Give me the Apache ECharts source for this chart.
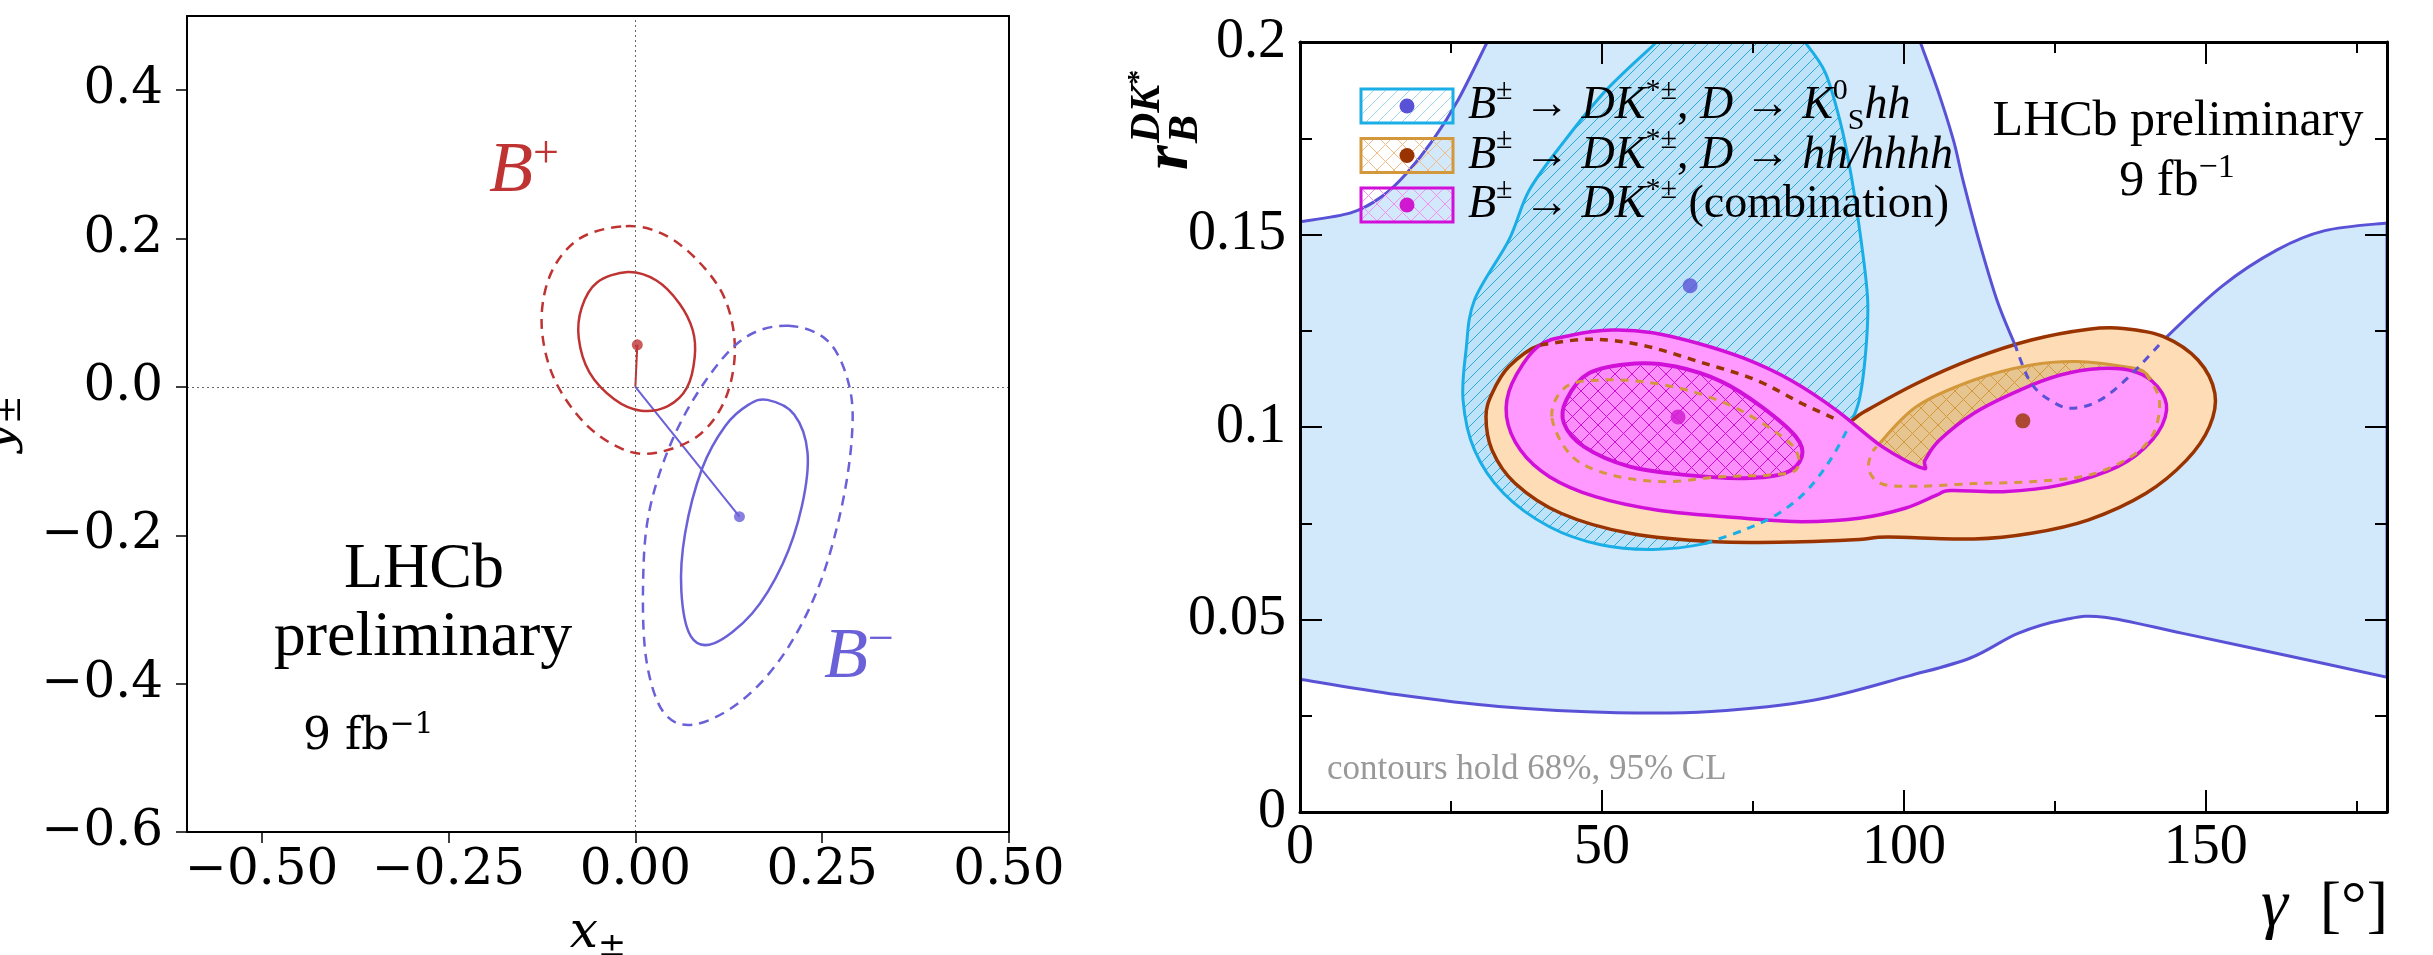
<!DOCTYPE html>
<html>
<head>
<meta charset="utf-8">
<title>LHCb B to DK* contours</title>
<script src="https://cdn.jsdelivr.net/npm/echarts@6/dist/echarts.min.js"></script>
<style>
  html, body { margin: 0; padding: 0; background: #fff; }
  #chart { width: 2433px; height: 955px; }
</style>
</head>
<body>
<div id="chart"></div>
<script>
// ---- left panel: (x±, y±) ----
const leftXTicks = [-0.5, -0.25, 0, 0.25, 0.5];
const leftYTicks = [-0.6, -0.4, -0.2, 0, 0.2, 0.4];
const bPlusCenter = [0.0026, 0.0568];
const bMinusCenter = [0.1393, -0.1749];
const bPlus68 = [[-0.0102, 0.1548], [0.0282, 0.1434], [0.0589, 0.1125], [0.0768, 0.0764], [0.0794, 0.0402],
  [0.0691, -0.001], [0.0435, -0.0258], [0.0077, -0.032], [-0.0282, -0.0165], [-0.0615, 0.0196],
  [-0.0758, 0.066], [-0.0717, 0.1073], [-0.0512, 0.1408]];
const bPlus95 = [[-0.0128, 0.2167], [0.0384, 0.2053], [0.0845, 0.1692], [0.1203, 0.1176], [0.1332, 0.0506],
  [0.1203, -0.0165], [0.0845, -0.0655], [0.0282, -0.0887], [-0.0179, -0.0836], [-0.0691, -0.0475],
  [-0.1101, 0.0144], [-0.1255, 0.0867], [-0.1127, 0.1537], [-0.0743, 0.2002]];
const bMinus68 = [[0.1767, -0.0175], [0.2125, -0.0371], [0.2304, -0.0887], [0.2228, -0.161], [0.1972, -0.2384],
  [0.1562, -0.3054], [0.105, -0.3457], [0.0743, -0.3364], [0.0615, -0.2745], [0.0666, -0.1971],
  [0.0896, -0.1094], [0.1203, -0.0526], [0.1511, -0.0242]];
const bMinus95 = [[0.2048, 0.0825], [0.2586, 0.0609], [0.2868, -0.001], [0.2893, -0.0733], [0.274, -0.1713],
  [0.2433, -0.2745], [0.1972, -0.3622], [0.1408, -0.4241], [0.0794, -0.455], [0.0384, -0.4396],
  [0.0154, -0.3725], [0.0102, -0.2745], [0.0179, -0.1713], [0.0487, -0.0733], [0.0947, 0.0093], [0.146, 0.066]];

// ---- right panel: (gamma, r_B) ----
const rightXTicks = [0, 50, 100, 150];
const rightXMinor = [25, 75, 125, 175];
const rightYTicks = [0, 0.05, 0.1, 0.15, 0.2];
const rightYMinor = [0.025, 0.075, 0.125, 0.175];

// 95% K0S hh region, three boundary pieces joined along the frame
const kshh95Lower = [[0, 0.0345], [16, 0.0305], [32.9, 0.0274], [52.5, 0.0258], [68.1, 0.0261], [85, 0.029],
  [100.7, 0.0353], [111, 0.040], [118.9, 0.0464], [126.7, 0.050], [133.2, 0.0506], [146.2, 0.0464],
  [163, 0.0408], [180, 0.035]];
const kshh95UpperRight = [[180, 0.153], [169.7, 0.151], [161.8, 0.146], [152.7, 0.1366],
  [143, 0.1226], [137.3, 0.1131], [132.5, 0.107], [128.2, 0.1049], [125, 0.1062], [121.1, 0.1113],
  [118.3, 0.1217], [115.4, 0.133], [112.4, 0.1486], [109.8, 0.164], [108.2, 0.1745], [105.6, 0.1875], [102.7, 0.2]];
const kshh95UpperLeft = [[31, 0.2], [26.2, 0.185], [22, 0.1745], [17.7, 0.166], [13.5, 0.1598], [8.4, 0.1556], [0, 0.1533]];
const kshhDashed = [[118.3, 0.1217], [121.1, 0.1113], [125, 0.1062], [128.2, 0.1049], [132.5, 0.107],
  [137.3, 0.1131], [143, 0.1226]];
const kshh68 = [[59.1, 0.2], [50.7, 0.1875], [43.9, 0.1745], [38.0, 0.1616], [34.6, 0.1486], [28.9, 0.133],
  [27.5, 0.120], [27.0, 0.107], [28.9, 0.094], [33.7, 0.0828], [41.3, 0.0741], [49.8, 0.0694],
  [58.4, 0.0682], [67.0, 0.0697], [73.6, 0.0733], [79.3, 0.0776], [84.0, 0.0836], [87.8, 0.0914],
  [90.7, 0.0995], [92.6, 0.107], [93.7, 0.120], [94.0, 0.133], [92.9, 0.1486], [91.2, 0.166],
  [89.5, 0.179], [87.0, 0.192], [83.6, 0.2]];
const kshh68Dashed = [[67.0, 0.0697], [73.6, 0.0733], [79.3, 0.0776], [84.0, 0.0836], [87.8, 0.0914], [90.7, 0.0995]];
const hh95 = [[30.8, 0.1027], [31.8, 0.1087], [34.6, 0.1157], [39.8, 0.1213], [47.9, 0.1228], [56.5, 0.1213],
  [66, 0.117], [75.5, 0.1122], [83.1, 0.1061], [88.8, 0.102], [91.0, 0.1014], [93.5, 0.104],
  [102.1, 0.1113], [111.6, 0.1178], [121.1, 0.1226], [130.6, 0.1254], [136.3, 0.1256], [143, 0.1235],
  [148.7, 0.1174], [151.5, 0.1087], [150.6, 0.1001], [146.8, 0.0914], [140.1, 0.0828], [130.6, 0.0759],
  [121.1, 0.0724], [111.6, 0.0709], [97.4, 0.0714], [92.6, 0.0708], [83.1, 0.0702], [68.8, 0.0702],
  [54.6, 0.0724], [43.2, 0.0776], [35.6, 0.0854], [31.8, 0.094]];
const hh95Dashed = [[39.8, 0.1213], [47.9, 0.1228], [56.5, 0.1213], [66, 0.117], [75.5, 0.1122],
  [83.1, 0.1061], [88.8, 0.102]];
const hh68Left = [[41.7, 0.1027], [44.1, 0.1105], [49.8, 0.1122], [56.5, 0.1118], [64.1, 0.1096],
  [71.7, 0.1053], [78.3, 0.0992], [82.1, 0.094], [82.1, 0.0888], [77.4, 0.0875], [69.8, 0.0871],
  [60.3, 0.0858], [51.7, 0.0875], [45.1, 0.0923]];
const hh68Right = [[95.5, 0.0949], [102.1, 0.1053], [111.6, 0.1122], [121.1, 0.1161], [128.7, 0.117],
  [136.3, 0.1157], [140.1, 0.1139], [142.3, 0.107], [141.3, 0.0983], [137.6, 0.0923], [130.6, 0.0875],
  [121.1, 0.0858], [111.6, 0.0853], [102.1, 0.0846], [96.4, 0.0852], [94.2, 0.0888], [94.6, 0.093]];
const hh68RightDashed = [[140.1, 0.1139], [142.3, 0.107], [141.3, 0.0983], [137.6, 0.0923], [130.6, 0.0875],
  [121.1, 0.0858], [111.6, 0.0853], [102.1, 0.0846], [96.4, 0.0852], [94.2, 0.0888], [94.6, 0.093], [95.5, 0.0949]];
const comb95 = [[39.4, 0.1209], [45.1, 0.1239], [51.7, 0.1252], [58.4, 0.1245], [66.0, 0.1217], [73.6, 0.1178],
  [81.2, 0.1122], [88.8, 0.1044], [96.4, 0.0949], [103.1, 0.0893], [103.5, 0.0914], [105.9, 0.0966],
  [111.6, 0.1036], [119.2, 0.1096], [125.9, 0.1135], [132.5, 0.1152], [138.2, 0.1144], [142.0, 0.1105],
  [143.5, 0.1044], [141.1, 0.0966], [135.4, 0.0897], [125.9, 0.0849], [116.4, 0.0832], [107.8, 0.0835],
  [105.4, 0.0823], [100.2, 0.0789], [92.6, 0.0763], [83.1, 0.0754], [73.6, 0.0763], [59.3, 0.0784],
  [48.9, 0.0819], [41.3, 0.0871], [36.5, 0.094], [34.2, 0.1027], [35.1, 0.1113]];
const comb68 = [[44.1, 0.107], [47.9, 0.114], [55.5, 0.1165], [62.2, 0.1157], [69.8, 0.1118], [76.4, 0.1053],
  [82.1, 0.0975], [83.1, 0.0923], [80.3, 0.088], [73.6, 0.0867], [64.1, 0.0875], [54.6, 0.0897],
  [47.0, 0.0949], [43.7, 0.101]];
const kshhBest = [[64.6, 0.1367]];
const hhBest = [[119.7, 0.1016]];
const combBest = [[62.6, 0.1026]];

const serif = 'Liberation Serif';
const mplSerif = 'DejaVu Serif';
const red = '#bf3333';
const blue = '#6a60d8';
const purple = '#5a52d6';
const cyan = '#1aaee6';
const brown = '#993300';
const gold = '#d4983c';
const magenta = '#d010d8';

function hatch(bg, line, size, width, cross) {
  const c = document.createElement('canvas');
  c.width = size; c.height = size;
  const g = c.getContext('2d');
  if (bg) { g.fillStyle = bg; g.fillRect(0, 0, size, size); }
  g.strokeStyle = line; g.lineWidth = width;
  g.beginPath();
  g.moveTo(0, size); g.lineTo(size, 0);
  g.moveTo(-size / 2, size / 2); g.lineTo(size / 2, -size / 2);
  g.moveTo(size / 2, size * 1.5); g.lineTo(size * 1.5, size / 2);
  if (cross) {
    g.moveTo(0, 0); g.lineTo(size, size);
    g.moveTo(-size / 2, size / 2); g.lineTo(size / 2, size * 1.5);
    g.moveTo(size / 2, -size / 2); g.lineTo(size * 1.5, size / 2);
  }
  g.stroke();
  return { image: c, repeat: 'repeat' };
}

// Catmull-Rom piece as a cubic bezier command
function crCurve(p0, p1, p2, p3) {
  const k = 1 / 6;
  return 'C' + (p1[0] + (p2[0] - p0[0]) * k).toFixed(2) + ',' + (p1[1] + (p2[1] - p0[1]) * k).toFixed(2) + ' ' +
    (p2[0] - (p3[0] - p1[0]) * k).toFixed(2) + ',' + (p2[1] - (p3[1] - p1[1]) * k).toFixed(2) + ' ' +
    p2[0].toFixed(2) + ',' + p2[1].toFixed(2);
}

// mode: 'loop' smooth closed contour, 'closed' smooth pieces joined by straight lines, 'open' plain curve
function buildPath(segs, mode) {
  let d = '';
  if (mode === 'loop') {
    const p = segs[0], n = p.length;
    d = 'M' + p[0][0].toFixed(2) + ',' + p[0][1].toFixed(2);
    for (let i = 0; i < n; i++) d += crCurve(p[(i - 1 + n) % n], p[i], p[(i + 1) % n], p[(i + 2) % n]);
    return d + 'Z';
  }
  segs.forEach(function (p, s) {
    d += (s === 0 ? 'M' : 'L') + p[0][0].toFixed(2) + ',' + p[0][1].toFixed(2);
    for (let i = 0; i < p.length - 1; i++) d += crCurve(p[i - 1] || p[i], p[i], p[i + 1], p[i + 2] || p[i + 1]);
  });
  return mode === 'closed' ? d + 'Z' : d;
}

function contour(xi, yi, segs, mode, style, z) {
  return {
    type: 'custom', xAxisIndex: xi, yAxisIndex: yi, z: z, silent: true, clip: true,
    data: segs[0],
    renderItem: function (params, api) {
      if (params.dataIndex !== 0) return null;
      const px = segs.map(function (s) { return s.map(function (p) { return api.coord(p); }); });
      return { type: 'path', shape: { pathData: buildPath(px, mode) }, style: style };
    }
  };
}

function dot(xi, yi, pts, color, size, z) {
  return {
    type: 'scatter', xAxisIndex: xi, yAxisIndex: yi, z: z, silent: true,
    data: pts, symbol: 'circle', symbolSize: size,
    itemStyle: { color: color }
  };
}

function minus(v, digits) {
  return (v < 0 ? '\u2212' : '') + Math.abs(v).toFixed(digits);
}

const dash = [10, 7];
const dash2 = [8, 7];
const blackLine = { color: '#000', width: 2 };
const rightLine = { color: '#000', width: 3 };

function frameAxis(grid, pos, extent, z) {
  return {
    type: 'value', gridIndex: grid, position: pos, min: extent[0], max: extent[1], z: z,
    axisLine: { show: true, onZero: false, lineStyle: grid === 0 ? blackLine : rightLine },
    axisTick: { show: false }, axisLabel: { show: false }, splitLine: { show: false }
  };
}

function tickAxis(grid, pos, extent, values, len, line, z) {
  return {
    type: 'value', gridIndex: grid, position: pos, min: extent[0], max: extent[1], z: z,
    axisLine: { show: line, onZero: false, lineStyle: rightLine },
    axisTick: { show: true, inside: true, customValues: values, length: len, lineStyle: { color: '#000', width: 2 } },
    axisLabel: { show: false }, splitLine: { show: false }
  };
}

const rightX = [0, 180];
const rightY = [0, 0.2];

const xAxes = [
  {
    type: 'value', gridIndex: 0, position: 'bottom', min: -0.6, max: 0.5, z: 10,
    axisLine: { show: true, onZero: false, lineStyle: blackLine },
    axisTick: { show: true, customValues: leftXTicks, length: 11, lineStyle: { color: '#000', width: 1.5 } },
    axisLabel: { customValues: leftXTicks, formatter: function (v) { return minus(v, 2); },
      fontFamily: mplSerif, fontSize: 50, color: '#000', margin: 14 },
    splitLine: { show: false }
  },
  frameAxis(0, 'top', [-0.6, 0.5], 10),
  {
    type: 'value', gridIndex: 1, position: 'bottom', min: 0, max: 180, z: 20,
    axisLine: { show: true, onZero: false, lineStyle: rightLine },
    axisTick: { show: true, inside: true, customValues: rightXTicks, length: 22, lineStyle: { color: '#000', width: 2 } },
    axisLabel: { customValues: rightXTicks, fontFamily: serif, fontSize: 56, color: '#000', margin: 8 },
    splitLine: { show: false }
  },
  tickAxis(1, 'bottom', rightX, rightXMinor, 11, false, 20),
  tickAxis(1, 'top', rightX, rightXTicks, 22, true, 20),
  tickAxis(1, 'top', rightX, rightXMinor, 11, false, 20)
];

const yAxes = [
  {
    type: 'value', gridIndex: 0, position: 'left', min: -0.6, max: 0.5, z: 10,
    axisLine: { show: true, onZero: false, lineStyle: blackLine },
    axisTick: { show: true, customValues: leftYTicks, length: 11, lineStyle: { color: '#000', width: 1.5 } },
    axisLabel: { customValues: leftYTicks, formatter: function (v) { return minus(v, 1); },
      fontFamily: mplSerif, fontSize: 50, color: '#000', margin: 24 },
    splitLine: { show: false }
  },
  frameAxis(0, 'right', [-0.6, 0.5], 10),
  {
    type: 'value', gridIndex: 1, position: 'left', min: 0, max: 0.2, z: 20,
    axisLine: { show: true, onZero: false, lineStyle: rightLine },
    axisTick: { show: true, inside: true, customValues: rightYTicks, length: 22, lineStyle: { color: '#000', width: 2 } },
    axisLabel: { customValues: rightYTicks, fontFamily: serif, fontSize: 56, color: '#000', margin: 14 },
    splitLine: { show: false }
  },
  tickAxis(1, 'left', rightY, rightYMinor, 12, false, 20),
  tickAxis(1, 'right', rightY, rightYTicks, 22, true, 20),
  tickAxis(1, 'right', rightY, rightYMinor, 12, false, 20)
];

const series = [
  // left panel
  {
    type: 'line', xAxisIndex: 0, yAxisIndex: 0, z: 3, silent: true, symbol: 'none',
    data: [[0, 0], bPlusCenter], lineStyle: { color: red, width: 2 },
    markLine: {
      silent: true, symbol: ['none', 'none'], label: { show: false },
      lineStyle: { type: [2, 3], color: '#666', width: 1 },
      data: [{ xAxis: 0 }, { yAxis: 0 }]
    }
  },
  {
    type: 'line', xAxisIndex: 0, yAxisIndex: 0, z: 3, silent: true, symbol: 'none',
    data: [[0, 0], bMinusCenter], lineStyle: { color: blue, width: 2 }
  },
  contour(0, 0, [bPlus68], 'loop', { fill: 'none', stroke: red, lineWidth: 2.5 }, 4),
  contour(0, 0, [bPlus95], 'loop', { fill: 'none', stroke: red, lineWidth: 2.5, lineDash: dash }, 4),
  contour(0, 0, [bMinus68], 'loop', { fill: 'none', stroke: blue, lineWidth: 2.5 }, 4),
  contour(0, 0, [bMinus95], 'loop', { fill: 'none', stroke: blue, lineWidth: 2.5, lineDash: dash }, 4),
  dot(0, 0, [bPlusCenter], red, 11, 5),
  dot(0, 0, [bMinusCenter], blue, 11, 5),

  // right panel, drawn back to front
  contour(2, 2, [kshh95Lower, kshh95UpperRight, kshh95UpperLeft], 'closed',
    { fill: '#d2e8fb', stroke: purple, lineWidth: 3 }, 2),
  contour(2, 2, [kshh68], 'closed', { fill: hatch('#bee3f8', '#2aa9dd', 12, 1, false), stroke: cyan, lineWidth: 3 }, 3),
  contour(2, 2, [hh95], 'loop', { fill: '#fddcb6', stroke: brown, lineWidth: 3.5 }, 4),
  contour(2, 2, [hh68Left], 'loop', { fill: hatch('#e6c590', gold, 17, 1, true), stroke: gold, lineWidth: 3 }, 5),
  contour(2, 2, [hh68Right], 'loop', { fill: hatch('#e6c590', gold, 17, 1, true), stroke: gold, lineWidth: 3 }, 5),
  contour(2, 2, [comb95], 'loop', { fill: '#ff99ff', stroke: magenta, lineWidth: 3.5 }, 6),
  contour(2, 2, [comb68], 'loop', { fill: hatch('#fb8efb', magenta, 17, 1, true), stroke: magenta, lineWidth: 4 }, 7),
  contour(2, 2, [kshh68Dashed], 'open', { fill: 'none', stroke: cyan, lineWidth: 3, lineDash: dash2 }, 8),
  contour(2, 2, [kshhDashed], 'open', { fill: 'none', stroke: purple, lineWidth: 3, lineDash: dash2 }, 8),
  contour(2, 2, [hh95Dashed], 'open', { fill: 'none', stroke: brown, lineWidth: 3.5, lineDash: dash2 }, 8),
  contour(2, 2, [hh68Left], 'loop', { fill: 'none', stroke: gold, lineWidth: 3, lineDash: dash2 }, 8),
  contour(2, 2, [hh68RightDashed], 'open', { fill: 'none', stroke: gold, lineWidth: 3, lineDash: dash2 }, 8),
  dot(2, 2, kshhBest, purple, 15, 9),
  dot(2, 2, hhBest, brown, 15, 9),
  dot(2, 2, combBest, '#d018d0', 15, 9)
];

// rich text styles
function rt(size, opts) {
  return Object.assign({ fontFamily: serif, fontSize: size, fill: '#000' }, opts || {});
}
const legendRich = {
  n: rt(46, { lineHeight: 60 }),
  i: rt(46, { fontStyle: 'italic', lineHeight: 60 }),
  sup: rt(30, { verticalAlign: 'top', lineHeight: 32 }),
  sub: rt(30, { verticalAlign: 'bottom', lineHeight: 32 })
};
const legendRows = [
  '{i|B}{sup|\u00b1}{n| \u2192 }{i|DK}{sup|*\u00b1}{n|, }{i|D}{n| \u2192 }{i|K}{sup|0}{sub|S}{i|hh}',
  '{i|B}{sup|\u00b1}{n| \u2192 }{i|DK}{sup|*\u00b1}{n|, }{i|D}{n| \u2192 }{i|hh/hhhh}',
  '{i|B}{sup|\u00b1}{n| \u2192 }{i|DK}{sup|*\u00b1}{n| (combination)}'
];
const legendBoxes = [
  { stroke: cyan, fill: hatch(null, '#9fd6f0', 12, 1, false), dot: purple },
  { stroke: gold, fill: hatch(null, '#f0bc88', 17, 1, true), dot: brown },
  { stroke: magenta, fill: hatch(null, '#f490f4', 17, 1, true), dot: '#d018d0' }
];

const graphic = [];
legendBoxes.forEach(function (b, k) {
  const cy = 106 + k * 49.5;
  graphic.push({ type: 'rect', z: 50, shape: { x: 1361, y: cy - 17, width: 92, height: 34 },
    style: { fill: b.fill, stroke: b.stroke, lineWidth: 3 } });
  graphic.push({ type: 'circle', z: 51, shape: { cx: 1407, cy: cy, r: 7.5 }, style: { fill: b.dot } });
  graphic.push({ type: 'text', z: 51, x: 1468, y: cy,
    style: { text: legendRows[k], rich: legendRich, align: 'left', verticalAlign: 'middle' } });
});

graphic.push(
  { type: 'text', z: 51, x: 2178, y: 122,
    style: { text: 'LHCb preliminary', fontFamily: serif, fontSize: 50, fill: '#000', align: 'center', verticalAlign: 'middle' } },
  { type: 'text', z: 51, x: 2177, y: 182,
    style: { text: '{n|9 fb}{sup|\u22121}', align: 'center', verticalAlign: 'middle',
      rich: { n: rt(50, { lineHeight: 62 }), sup: rt(34, { verticalAlign: 'top', lineHeight: 34 }) } } },
  { type: 'text', z: 51, x: 1327, y: 770,
    style: { text: 'contours hold 68%, 95% CL', fontFamily: serif, fontSize: 35, fill: '#999', align: 'left', verticalAlign: 'middle' } },
  { type: 'text', z: 51, x: 2388, y: 908,
    style: { text: '{g|\u03b3}{n|  [\u00b0]}', align: 'right', verticalAlign: 'middle',
      rich: { g: rt(68, { fontStyle: 'italic' }), n: rt(64) } } },
  { type: 'group', x: 1170, y: 170, rotation: Math.PI / 2, children: [
    { type: 'text', x: 0, y: 0,
      style: { text: 'r', fontFamily: serif, fontSize: 64, fontStyle: 'italic', fontWeight: 'bold', fill: '#000', align: 'left', verticalAlign: 'middle' } },
    { type: 'text', x: 27, y: 16,
      style: { text: 'B', fontFamily: serif, fontSize: 42, fontStyle: 'italic', fontWeight: 'bold', fill: '#000', align: 'left', verticalAlign: 'middle' } },
    { type: 'text', x: 27, y: -22,
      style: { text: '{a|DK}{b|*}', align: 'left', verticalAlign: 'middle',
        rich: { a: rt(42, { fontStyle: 'italic', fontWeight: 'bold', lineHeight: 48 }),
                b: rt(30, { fontWeight: 'bold', verticalAlign: 'top', lineHeight: 30 }) } } }
  ] },

  // left panel annotations
  { type: 'text', z: 51, x: 489, y: 172,
    style: { text: '{b|B}{s|+}', align: 'left', verticalAlign: 'middle',
      rich: { b: rt(72, { fontStyle: 'italic', fill: red, lineHeight: 80 }), s: rt(46, { fill: red, verticalAlign: 'top', lineHeight: 46 }) } } },
  { type: 'text', z: 51, x: 824, y: 658,
    style: { text: '{b|B}{s|\u2212}', align: 'left', verticalAlign: 'middle',
      rich: { b: rt(72, { fontStyle: 'italic', fill: blue, lineHeight: 80 }), s: rt(46, { fill: blue, verticalAlign: 'top', lineHeight: 46 }) } } },
  { type: 'text', z: 51, x: 424, y: 570,
    style: { text: 'LHCb', fontFamily: serif, fontSize: 64, fill: '#000', align: 'center', verticalAlign: 'middle' } },
  { type: 'text', z: 51, x: 423, y: 638,
    style: { text: 'preliminary', fontFamily: serif, fontSize: 64, fill: '#000', align: 'center', verticalAlign: 'middle' } },
  { type: 'text', z: 51, x: 303, y: 738,
    style: { text: '{n|9 fb}{sup|\u22121}', align: 'left', verticalAlign: 'middle',
      rich: { n: rt(44, { fontFamily: mplSerif, lineHeight: 56 }), sup: rt(30, { fontFamily: mplSerif, verticalAlign: 'top', lineHeight: 30 }) } } },
  { type: 'text', z: 51, x: 598, y: 934,
    style: { text: '{i|x}{s|\u00b1}', align: 'center', verticalAlign: 'middle',
      rich: { i: rt(50, { fontFamily: mplSerif, fontStyle: 'italic', lineHeight: 60 }), s: rt(34, { fontFamily: mplSerif, verticalAlign: 'bottom', lineHeight: 34 }) } } },
  { type: 'text', z: 51, x: -2, y: 424, rotation: Math.PI / 2,
    style: { text: '{i|y}{s|\u00b1}', align: 'center', verticalAlign: 'middle',
      rich: { i: rt(50, { fontFamily: mplSerif, fontStyle: 'italic', lineHeight: 60 }), s: rt(34, { fontFamily: mplSerif, verticalAlign: 'bottom', lineHeight: 34 }) } } }
);

const chart = echarts.init(document.getElementById('chart'));
chart.setOption({
  animation: false,
  backgroundColor: '#fff',
  grid: [
    { left: 187, top: 16, width: 822, height: 816 },
    { left: 1300, top: 42, width: 1087, height: 770 }
  ],
  xAxis: xAxes,
  yAxis: yAxes,
  series: series,
  graphic: graphic
});
</script>
</body>
</html>
